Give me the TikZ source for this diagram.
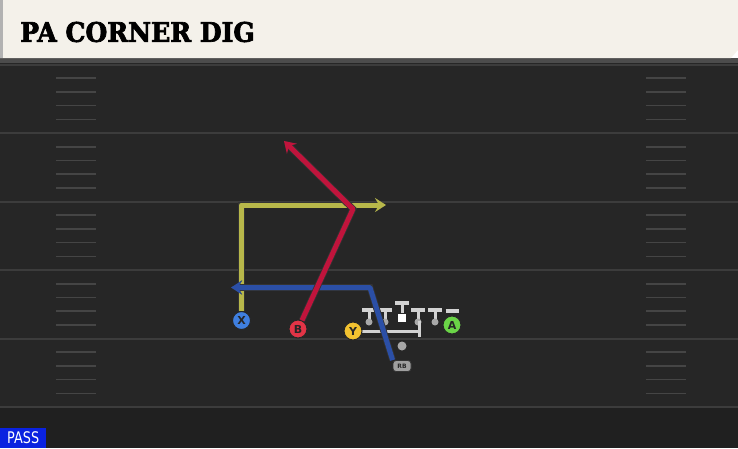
\documentclass[tikz,border=0pt]{standalone}
\usepackage{fontspec}
\newfontfamily\titlefont[FakeStretch=0.93,FakeBold=2.5]{DejaVu Serif}
\newfontfamily\playfont{DejaVu Sans}
\newfontfamily\tagfont[FakeStretch=0.8]{DejaVu Sans}
\usetikzlibrary{arrows.meta}

\definecolor{fieldbg}{HTML}{262626}
\definecolor{endbg}{HTML}{202020}
\definecolor{headbg}{HTML}{F4F1EA}
\definecolor{yardgray}{HTML}{3C3C3C}
\definecolor{hashgray}{HTML}{454545}
\definecolor{olgray}{HTML}{D2D2D2}
\definecolor{xblue}{HTML}{3F7FDF}
\definecolor{bred}{HTML}{E23446}
\definecolor{yyellow}{HTML}{F2C230}
\definecolor{agreen}{HTML}{6AD447}
\definecolor{routeyel}{HTML}{B7B74A}
\definecolor{routered}{HTML}{C0143C}
\definecolor{routeblue}{HTML}{2B4FA6}
\definecolor{passblue}{HTML}{0A22E0}

\tikzset{
  player/.style={circle, draw=black!85, line width=1pt, minimum size=18pt,
    inner sep=0pt, text=black!85, font=\playfont\bfseries\fontsize{11}{11}\selectfont},
  route/.style={line width=5pt, line join=round,
    preaction={draw=black!80, line width=6.6pt},
    -{Stealth[length=11pt,width=14pt,inset=4pt]}},
  yardline/.style={yardgray, line width=2pt},
  hash/.style={hashgray, line width=1.6pt},
  olbar/.style={olgray, line width=4pt},
  olstem/.style={olgray, line width=3pt}
}

\begin{document}
\begin{tikzpicture}[x=1pt,y=-1pt]
  \useasboundingbox (0,0) rectangle (738,448);

  % field
  \fill[fieldbg] (0,58) rectangle (738,448);
  \fill[endbg] (0,407) rectangle (738,448);
  \fill[black!70] (0,58) rectangle (738,63);
  \foreach \y in {64.5,133,201.5,270,338.5,407}
    \draw[yardline] (0,\y) -- (738,\y);
  \foreach \y in {64.5,133,201.5,270,338.5}
    \foreach \k in {1,...,4} {
      \draw[hash] (56,\y+13.7*\k) -- (96,\y+13.7*\k);
      \draw[hash] (646,\y+13.7*\k) -- (686,\y+13.7*\k);
    }

  % header
  \fill[headbg] (0,0) -- (738,0) -- (738,50) -- (731,58) -- (0,58) -- cycle;
  \fill[black!30] (0,0) rectangle (3,58);
  \node[anchor=west, inner sep=0pt] (title) at (20,32)
    {\titlefont\bfseries\fontsize{27}{27}\selectfont PA CORNER DIG};

  % line
  \foreach \x in {369,385,418,435} {
    \draw[olbar] (\x-7,310) -- (\x+7,310);
    \draw[olstem] (\x,310) -- (\x,322);
    \fill[olgray!80!black] (\x,322) circle (3.5);
  }
  \draw[olbar] (395,303) -- (409,303);
  \draw[olstem] (402,303) -- (402,313);
  \fill[white] (398,313.5) rectangle (406,321.5);
  \draw[olbar] (445.5,310.5) -- (458.5,310.5);
  \draw[olgray, line width=3pt] (360,331) -- (419,331);
  \draw[olgray, line width=3pt] (419,321) -- (419,337);

  \fill[gray!70] (402,346) circle (4.5);
  \node[fill=gray!75, draw=black!80, line width=0.8pt, rounded corners=3pt,
    minimum width=18pt, minimum height=11pt, inner sep=0pt, text=black!85,
    font=\playfont\bfseries\fontsize{6}{6}\selectfont] (RB) at (402,366) {RB};

  \node[player, fill=xblue] (X) at (241.5,320.5) {X};
  \node[player, fill=bred] (B) at (298,329) {B};
  \node[player, fill=yyellow] (Y) at (353,331) {Y};
  \node[player, fill=agreen] (A) at (452,325) {A};

  % routes
  \coordinate (xk) at (241.5,205);
  \coordinate (xe) at (386,205);
  \coordinate (bk) at (353,209);
  \coordinate (be) at (284,141);
  \coordinate (rk) at (370,287.5);
  \coordinate (re) at (231,287.5);

  \draw[route, routeyel] (X) -- (xk) -- (xe);
  \draw[route, routeblue] (RB.north west) -- (rk) -- (re);
  \draw[route, routered] (B) -- (bk) -- (be);

  \node[fill=passblue, text=white, anchor=south west, minimum width=46pt,
    minimum height=20pt, inner sep=0pt,
    font=\tagfont\fontsize{16}{16}\selectfont] (pass) at (0,448) {PASS};
\end{tikzpicture}
\end{document}
